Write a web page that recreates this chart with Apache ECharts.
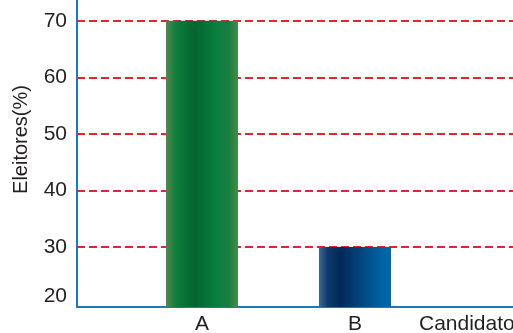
<!DOCTYPE html>
<html>
<head>
<meta charset="utf-8">
<script src="https://cdn.jsdelivr.net/npm/echarts@6/dist/echarts.min.js"></script>
<style>
  html, body { margin: 0; padding: 0; background: #fff; }
  #chart { width: 513px; height: 333px; }
</style>
</head>
<body>
<div id="chart"></div>
<script>
var candidatos = ['A', 'B'];
var eleitores = [70, 30];
var gridValues = [30, 40, 50, 60, 70];
var yLabels = [20, 30, 40, 50, 60, 70];

var fontFam = '"Liberation Sans", Arial, sans-serif';
var textColor = '#231f20';
var axisBlue = '#1b78c2';

var barFills = [
  new echarts.graphic.LinearGradient(0, 0, 1, 0, [
    { offset: 0, color: '#4f8a4b' },
    { offset: 0.15, color: '#0b7d3c' },
    { offset: 0.4, color: '#04652f' },
    { offset: 0.7, color: '#087f3e' },
    { offset: 0.88, color: '#1a7f40' },
    { offset: 1, color: '#4b8a49' }
  ]),
  new echarts.graphic.LinearGradient(0, 0, 1, 0, [
    { offset: 0, color: '#3b6a9a' },
    { offset: 0.12, color: '#0e3a6c' },
    { offset: 0.3, color: '#02285a' },
    { offset: 0.6, color: '#024880' },
    { offset: 0.85, color: '#0061a1' },
    { offset: 1, color: '#0068a8' }
  ])
];

var chart = echarts.init(document.getElementById('chart'));

var option = {
  animation: false,
  grid: { left: 77, right: 0, top: 0, bottom: 26, containLabel: false, outerBoundsMode: 'none' },
  xAxis: {
    type: 'value',
    min: -0.817,
    max: 2.033,
    name: 'Candidato',
    nameLocation: 'end',
    nameGap: -94,
    nameTextStyle: {
      color: textColor, fontSize: 21, fontFamily: fontFam,
      align: 'left', verticalAlign: 'top', padding: [7, 0, 0, 0]
    },
    axisLine: { show: true, onZero: false, lineStyle: { color: axisBlue, width: 2 } },
    axisTick: { show: false },
    splitLine: { show: false },
    axisLabel: {
      color: textColor, fontSize: 21, fontFamily: fontFam, margin: 7,
      showMinLabel: false, showMaxLabel: false,
      formatter: function (v) {
        return (Number.isInteger(v) && candidatos[v]) ? candidatos[v] : '';
      }
    }
  },
  yAxis: {
    type: 'value',
    min: 19.4,
    max: 73.66,
    name: 'Eleitores(%)',
    nameLocation: 'middle',
    nameRotate: 90,
    nameGap: 46,
    nameTextStyle: {
      color: textColor, fontSize: 20, fontFamily: fontFam,
      padding: [0, 0, 0, 28]
    },
    axisLine: { show: true, onZero: false, lineStyle: { color: axisBlue, width: 2 } },
    axisTick: { show: false },
    splitLine: { show: false },
    axisLabel: {
      color: textColor, fontSize: 21, fontFamily: fontFam, margin: 10,
      formatter: function (v) {
        if (yLabels.indexOf(v) < 0) return '';
        return v === yLabels[0] ? '{lift|' + v + '}' : String(v);
      },
      rich: {
        lift: { color: textColor, fontSize: 21, fontFamily: fontFam, padding: [0, 0, 14, 0] }
      }
    }
  },
  series: [{
    type: 'bar',
    barWidth: 72,
    z: 2,
    data: eleitores.map(function (v, i) {
      return { value: [i, v], itemStyle: { color: barFills[i] } };
    }),
    markLine: {
      silent: true,
      z: 1,
      symbol: 'none',
      label: { show: false },
      lineStyle: { color: '#e8232d', type: [8, 4], width: 2, opacity: 1 },
      data: gridValues.map(function (v) { return { yAxis: v }; })
    }
  }]
};

chart.setOption(option);
</script>
</body>
</html>
